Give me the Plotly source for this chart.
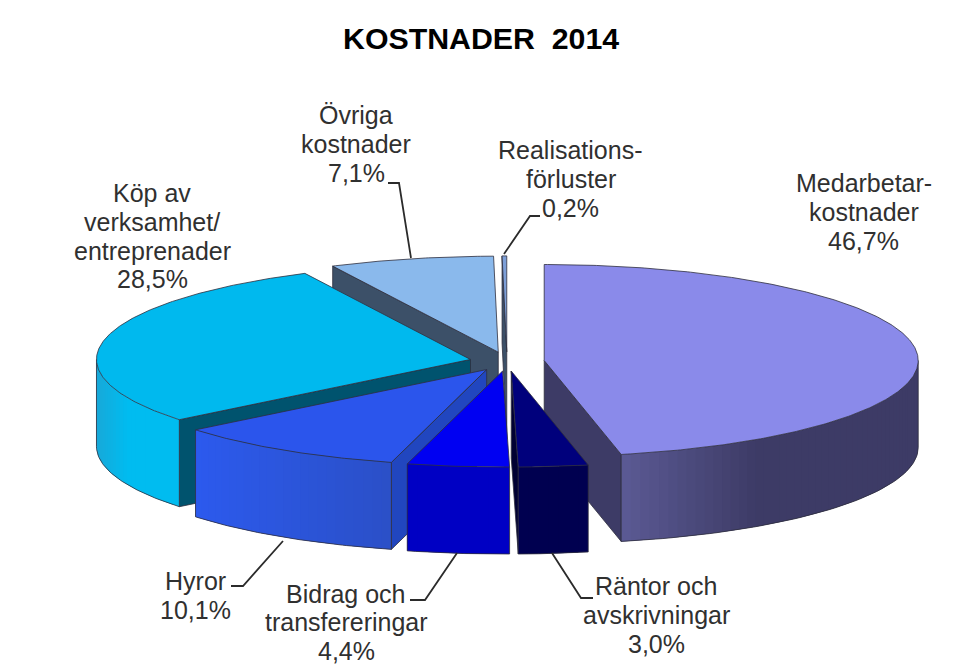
import math
import plotly.graph_objects as go

# --- data (clockwise from 12 o'clock) ---
categories = ["Medarbetarkostnader", "Räntor och avskrivningar", "Bidrag och transfereringar",
              "Hyror", "Köp av verksamhet/entreprenader", "Övriga kostnader", "Realisationsförluster"]
values = [46.7, 3.0, 4.4, 10.1, 28.5, 7.1, 0.2]
label_lines = [["Medarbetar-", "kostnader", "46,7%"],
               ["Räntor och", "avskrivningar", "3,0%"],
               ["Bidrag och", "transfereringar", "4,4%"],
               ["Hyror", "10,1%"],
               ["Köp av", "verksamhet/", "entreprenader", "28,5%"],
               ["Övriga", "kostnader", "7,1%"],
               ["Realisations-", "förluster", "0,2%"]]
title_text = "KOSTNADER  2014"

# --- styles ---
top_colors = ["#8a8aea", "#00007c", "#0000f2", "#2b55ec", "#00b9ee", "#8ab9ec", "#7d9fd8"]
wall_colors = ["#3d3b66", "#000033", "#00009a", "#2146bf", "#00536e", "#3c5068", "#3c5068"]
arc_left = ["#5c5b96", "#000050", "#0000c4", "#2c5aee", "#18a8d8", "#8ab9ec", "#7d9fd8"]
arc_right = ["#3d3b66", "#000050", "#0000c4", "#2b50c8", "#00bcf0", "#8ab9ec", "#7d9fd8"]
arc_knee = [0.47, 1, 1, 1, 0.4, 1, 1]
EDGE = "#2e2e3e"
CX, CY, RX, RY, DEPTH, PULL = 507, 361.5, 374, 96, 87, 0.10
LINE_H = 28.8
label_pos = [(863.5, 183), (656, 586), (346, 593.5), (195, 581), (152, 193), (356, 115), (570.5, 150)]
leaders = [None,
           [(552, 553), (581, 598), (593, 598)],
           [(457, 553), (425, 600), (410, 600)],
           [(283, 541), (243, 586), (231, 586)],
           None,
           [(388, 183), (399, 183), (411, 258)],
           [(540, 216), (530, 216), (504, 254)]]
paint_order = [5, 6, 4, 0, 3, 2, 1]
PAGE_MARGIN = 8  # the page body's own margin


def mix(c1, c2, t):
    a = [int(c1[i:i + 2], 16) for i in (1, 3, 5)]
    b = [int(c2[i:i + 2], 16) for i in (1, 3, 5)]
    return "#%02x%02x%02x" % tuple(round(p + (q - p) * t) for p, q in zip(a, b))


def poly(fig, xs, ys, fill=None, line=None, width=0.8):
    fig.add_trace(go.Scatter(
        x=xs, y=ys, mode="lines", hoverinfo="skip", showlegend=False,
        fill="toself" if fill else "none", fillcolor=fill,
        line=dict(color=line or fill, width=width if line else 0)))


fig = go.Figure()
total = sum(values)
starts, acc = [], 0.0
for v in values:
    starts.append(acc / total * 360)
    acc += v
ends = [s + v / total * 360 for s, v in zip(starts, values)]

for i in paint_order:
    a0, a1 = starts[i], ends[i]
    mid = math.radians((a0 + a1) / 2)
    ax = CX + PULL * RX * math.sin(mid)
    ay = CY - PULL * RY * math.cos(mid)

    def pt(deg):
        r = math.radians(deg)
        return ax + RX * math.sin(r), ay - RY * math.cos(r)

    # radial side walls that face the viewer
    for deg, facing in ((a0, math.sin(math.radians(a0)) < -1e-6), (a1, math.sin(math.radians(a1)) > 1e-6)):
        if facing:
            px, py = pt(deg)
            poly(fig, [ax, px, px, ax, ax], [ay, py, py + DEPTH, ay + DEPTH, ay], wall_colors[i], EDGE)

    # outer curved wall (front half only), shaded in overlapping strips
    lo, hi = max(a0, 90), min(a1, 270)
    if hi > lo:
        n = max(2, int((hi - lo) / 1.5))
        grid = [lo + (hi - lo) * k / n for k in range(n + 1)]
        xmin, xmax = min(pt(g)[0] for g in grid), max(pt(g)[0] for g in grid)
        for k in range(n):
            sub = grid[k:k + 3]
            arc = [pt(g) for g in sub]
            f = (pt(grid[k])[0] - xmin) / (xmax - xmin)
            col = mix(arc_left[i], arc_right[i], min(1, f / arc_knee[i]))
            xs = [p[0] for p in arc]
            ys = [p[1] for p in arc]
            poly(fig, xs + xs[::-1] + xs[:1], ys + [y + DEPTH for y in ys[::-1]] + ys[:1], col)
        pts = [pt(lo + (hi - lo) * k / 60) for k in range(61)]
        poly(fig, [p[0] for p in pts], [p[1] + DEPTH for p in pts], None, EDGE)
        for e in (pt(lo), pt(hi)):
            poly(fig, [e[0], e[0]], [e[1], e[1] + DEPTH], None, EDGE)

    # top face
    steps = max(2, int((a1 - a0) * 2))
    arc = [pt(a0 + (a1 - a0) * k / steps) for k in range(steps + 1)]
    poly(fig, [ax] + [p[0] for p in arc] + [ax], [ay] + [p[1] for p in arc] + [ay], top_colors[i], EDGE)

# leader lines
for seg in leaders:
    if seg:
        poly(fig, [p[0] for p in seg], [p[1] for p in seg], None, "#2b2b2b", 1.8)

# labels
annotations = [dict(x=481, y=38, text="<b>%s</b>" % title_text, showarrow=False,
                    font=dict(family="Liberation Sans", size=30.3, color="#000000"),
                    xanchor="center", yanchor="middle")]
for lines, (lx, ly) in zip(label_lines, label_pos):
    for k, line in enumerate(lines):
        annotations.append(dict(x=lx, y=ly + k * LINE_H, text=line, showarrow=False,
                                font=dict(family="Liberation Sans", size=25, color="#303030"),
                                xanchor="center", yanchor="middle"))

fig.update_layout(
    width=963 - PAGE_MARGIN, height=666 - PAGE_MARGIN, margin=dict(l=0, r=0, t=0, b=0),
    paper_bgcolor="white", plot_bgcolor="white", showlegend=False,
    xaxis=dict(range=[PAGE_MARGIN, 963], visible=False, fixedrange=True),
    yaxis=dict(range=[666, PAGE_MARGIN], visible=False, fixedrange=True),
    annotations=annotations)
fig.write_html("out.html", config=dict(displayModeBar=False))
